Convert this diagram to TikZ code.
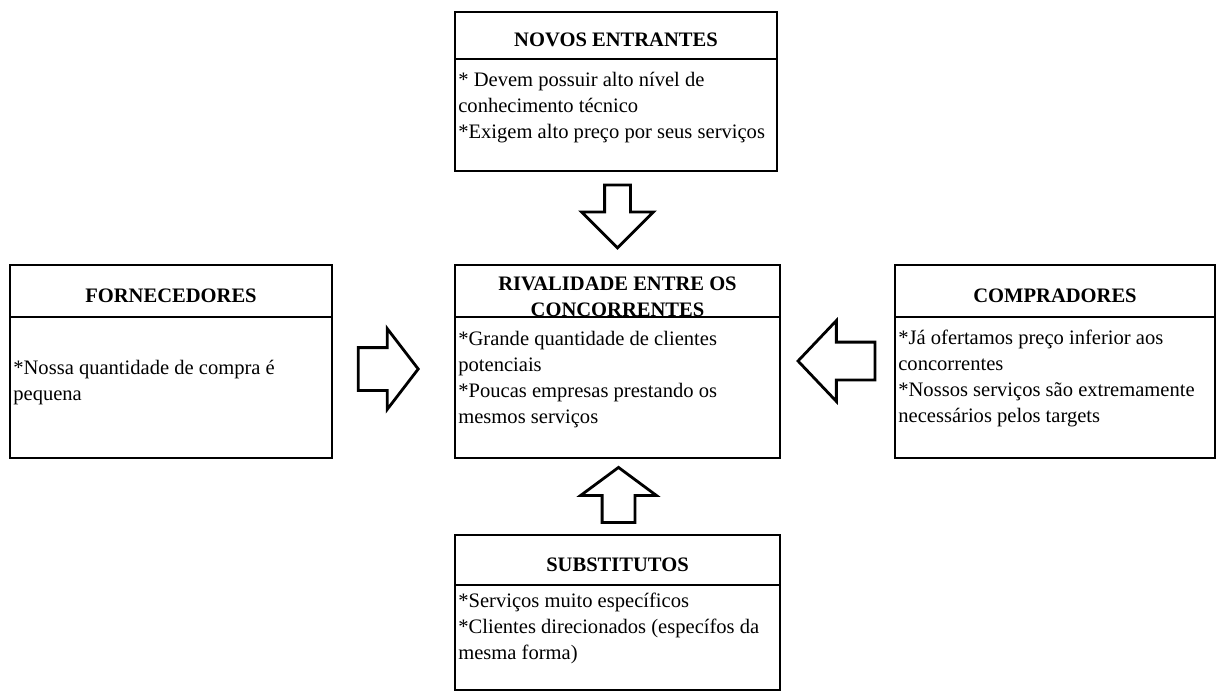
\documentclass[tikz,border=0pt]{standalone}
\usepackage{fontspec}
\setmainfont{Liberation Serif}
\usetikzlibrary{positioning,shapes.arrows}

\begin{document}
\begin{tikzpicture}[
    x=0.2mm, y=-0.2mm,
    font=\fontsize{11.7}{14.8}\selectfont,
    ttl/.style={draw, line width=1.1pt, inner sep=0pt, outer sep=0pt, text height=13pt, text depth=0pt, font=\fontsize{11.7}{14.8}\selectfont\bfseries},
    body/.style={draw, fill=white, line width=1.1pt, inner sep=0pt, outer sep=0pt},
    txt/.style={anchor=north west, align=left, inner sep=0pt},
    blk/.style={single arrow, draw, fill=white, line width=1.6pt, inner xsep=0pt},
  ]
  \useasboundingbox (0,0) rectangle (1217,692);
  % the five forces
  \node[ttl, minimum width=64.4mm, minimum height=9.4mm] (entT) at (616,35.5) {NOVOS ENTRANTES};
  \node[body, below=0pt of entT, minimum width=64.4mm, minimum height=22.4mm] (entB) {};
  \node[txt] (entX) at (458,67.8) {\strut* Devem possuir alto nível de\\conhecimento técnico\\*Exigem alto preço por seus serviços};

  \node[ttl, minimum width=64.4mm, minimum height=10.4mm] (fornT) at (171,291) {FORNECEDORES};
  \node[body, below=0pt of fornT, minimum width=64.4mm, minimum height=28.2mm] (fornB) {};
  \node[txt] (fornX) at (13,355.8) {\strut*Nossa quantidade de compra é\\pequena};

  \node[ttl, minimum width=65mm, minimum height=10.4mm] (rivT) at (617.5,291) {};
  \node[txt, anchor=north, align=center, font=\fontsize{11.7}{14.8}\selectfont\bfseries] (rivH) at (617.5,272) {\strut RIVALIDADE ENTRE OS\\CONCORRENTES};
  \node[body, below=0pt of rivT, minimum width=65mm, minimum height=28.2mm] (rivB) {};
  \node[txt] (rivX) at (458,326.8) {\strut*Grande quantidade de clientes\\potenciais\\*Poucas empresas prestando os\\mesmos serviços};

  \node[ttl, minimum width=64mm, minimum height=10.4mm] (compT) at (1055,291) {COMPRADORES};
  \node[body, below=0pt of compT, minimum width=64mm, minimum height=28.2mm] (compB) {};
  \node[txt] (compX) at (898,325.8) {\strut*Já ofertamos preço inferior aos\\concorrentes\\*Nossos serviços são extremamente\\necessários pelos targets};

  \node[ttl, minimum width=65mm, minimum height=10mm] (subT) at (617.5,560) {SUBSTITUTOS};
  \node[body, below=0pt of subT, minimum width=65mm, minimum height=21mm] (subB) {};
  \node[txt] (subX) at (458,588.8) {\strut*Serviços muito específicos\\*Clientes direcionados (específos da\\mesma forma)};

  % block arrows towards the centre
  \node[blk, rotate=-90, minimum height=12.6mm, minimum width=13.8mm, inner ysep=2.3mm, single arrow head extend=4.6mm, single arrow tip angle=90] (aEnt) at (617.5,210) {};
  \node[blk, minimum height=12mm, minimum width=15.6mm, inner ysep=4mm, single arrow head extend=3.8mm, single arrow tip angle=105] (aForn) at (380,369) {};
  \node[blk, rotate=180, minimum height=15.4mm, minimum width=15.6mm, inner ysep=3.5mm, single arrow head extend=4.3mm, single arrow tip angle=93] (aComp) at (845.5,361) {};
  \node[blk, rotate=90, minimum height=11mm, minimum width=14.6mm, inner ysep=3mm, single arrow head extend=4.3mm, single arrow tip angle=107] (aSub) at (618.5,501) {};
\end{tikzpicture}
\end{document}
